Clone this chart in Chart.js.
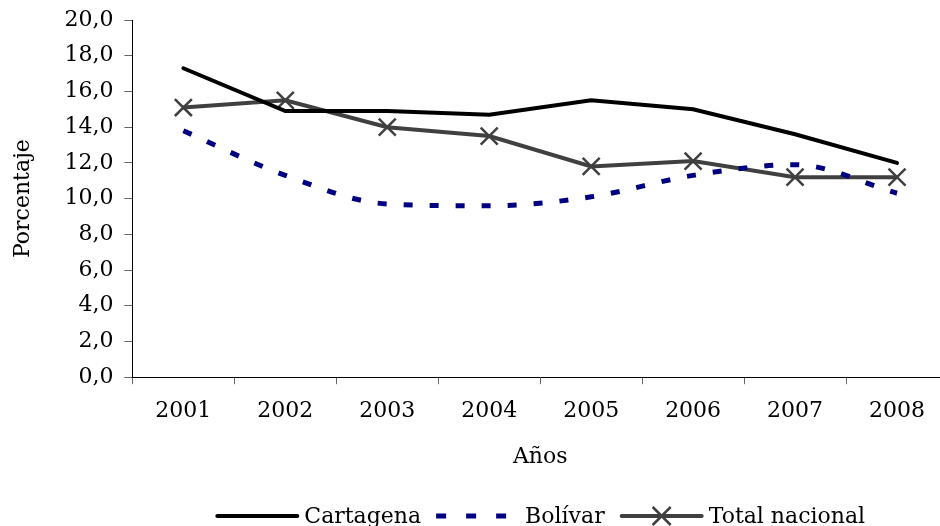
<!DOCTYPE html>
<html>
<head>
<meta charset="utf-8">
<script src="https://cdn.jsdelivr.net/npm/chart.js@4/dist/chart.umd.min.js"></script>
<style>
  html, body { margin: 0; padding: 0; background: #fff; overflow: hidden; }
  canvas { display: block; }
</style>
</head>
<body>
<!-- a little wider than the window: the original axis runs past the right edge -->
<canvas id="chart" width="948" height="526"></canvas>
<script>
// data
const years = ["2001", "2002", "2003", "2004", "2005", "2006", "2007", "2008"];
const cartagena = [17.3, 14.9, 14.9, 14.7, 15.5, 15.0, 13.6, 12.0];
const bolivar = [13.8, 11.3, 9.7, 9.6, 10.1, 11.3, 11.9, 10.3];
const totalNacional = [15.1, 15.5, 14.0, 13.5, 11.8, 12.1, 11.2, 11.2];

const FONT = "'DejaVu Serif', serif";

// legend drawn by hand so the line samples look like the original
const bottomLegend = {
    id: "bottomLegend",
    afterDraw(chart) {
        const ctx = chart.ctx;
        const y = 516;
        const sample = 84, textGap = 5, gap = 15;
        ctx.save();
        ctx.font = "22px " + FONT;
        ctx.textBaseline = "middle";
        const items = chart.data.datasets.map(ds => ({
            ds,
            w: sample + textGap + ctx.measureText(ds.label).width
        }));
        const total = items.reduce((s, it) => s + it.w, 0) + gap * (items.length - 1);
        const area = chart.chartArea;
        let x = (area.left + area.right) / 2 - total / 2;
        items.forEach(({ ds, w }) => {
            ctx.strokeStyle = ds.borderColor;
            ctx.lineWidth = ds.borderWidth;
            ctx.beginPath();
            if (ds.borderDash) {
                ctx.setLineDash([10, 20]);
                ctx.lineCap = "butt";
            } else {
                ctx.setLineDash([]);
                ctx.lineCap = "round";
            }
            ctx.moveTo(x + (ds.borderDash ? 0 : 2), y);
            ctx.lineTo(x + sample - (ds.borderDash ? 0 : 2), y);
            ctx.stroke();
            ctx.setLineDash([]);
            if (ds.pointStyle === "crossRot") {
                const c = x + sample / 2, r = 9;
                ctx.lineWidth = 2.5;
                ctx.lineCap = "butt";
                ctx.beginPath();
                ctx.moveTo(c - r, y - r); ctx.lineTo(c + r, y + r);
                ctx.moveTo(c + r, y - r); ctx.lineTo(c - r, y + r);
                ctx.stroke();
            }
            ctx.fillStyle = "#000";
            ctx.fillText(ds.label, x + sample + textGap, y + 1);
            x += w + gap;
        });
        ctx.restore();
    }
};

new Chart(document.getElementById("chart"), {
    type: "line",
    data: {
        labels: years,
        datasets: [
            {
                label: "Cartagena",
                data: cartagena,
                borderColor: "#000000",
                borderWidth: 4,
                pointRadius: 0,
                tension: 0,
                borderCapStyle: "round"
            },
            {
                label: "Bolívar",
                data: bolivar,
                borderColor: "#000080",
                borderWidth: 5,
                borderDash: [9, 17],
                pointRadius: 0,
                tension: 0.3,
                cubicInterpolationMode: "monotone"
            },
            {
                label: "Total nacional",
                data: totalNacional,
                borderColor: "#404040",
                backgroundColor: "#404040",
                borderWidth: 4,
                pointStyle: "crossRot",
                pointRadius: 12,
                pointBorderWidth: 2.5,
                pointBorderColor: "#404040",
                tension: 0
            }
        ]
    },
    options: {
        responsive: false,
        animation: false,
        layout: {
            autoPadding: false,
            padding: { top: 20, right: 0, bottom: 50, left: 4 }
        },
        plugins: {
            legend: { display: false },
            tooltip: { enabled: false }
        },
        scales: {
            x: {
                offset: true,
                afterFit: scale => { scale.paddingLeft = 0; scale.paddingRight = 0; },
                grid: {
                    offset: true,
                    drawOnChartArea: false,
                    drawTicks: true,
                    tickLength: 7,
                    color: "#666"
                },
                border: { color: "#000", width: 1 },
                ticks: {
                    color: "#000",
                    font: { family: FONT, size: 22 },
                    padding: 14,
                    maxRotation: 0
                },
                title: {
                    display: true,
                    text: "Años",
                    color: "#000",
                    font: { family: FONT, size: 22 },
                    padding: { top: 5, bottom: 6 }
                }
            },
            y: {
                min: 0,
                max: 20,
                afterFit: scale => { scale.paddingTop = 0; scale.paddingBottom = 0; },
                grid: {
                    drawOnChartArea: false,
                    drawTicks: true,
                    tickLength: 8,
                    color: "#666"
                },
                border: { color: "#000", width: 1 },
                ticks: {
                    stepSize: 2,
                    color: "#000",
                    font: { family: FONT, size: 22 },
                    padding: 11,
                    callback: v => v.toFixed(1).replace(".", ",")
                },
                title: {
                    display: true,
                    text: "Porcentaje",
                    color: "#000",
                    font: { family: FONT, size: 22 },
                    padding: { top: 6, bottom: 17 }
                }
            }
        }
    },
    plugins: [bottomLegend]
});
</script>
</body>
</html>
